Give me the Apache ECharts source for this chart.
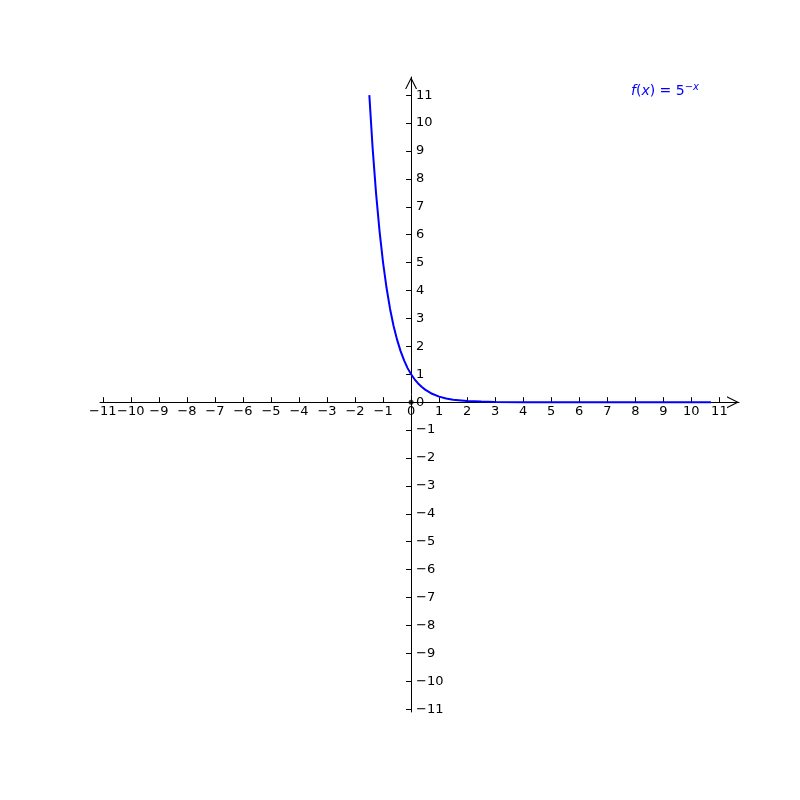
<!DOCTYPE html>
<html>
<head>
<meta charset="utf-8">
<script src="https://cdn.jsdelivr.net/npm/echarts/dist/echarts.min.js"></script>
<style>
  html, body { margin: 0; padding: 0; background: #fff; }
  #chart { width: 800px; height: 800px; }
</style>
</head>
<body>
<div id="chart"></div>
<script>
// tick values on both axes
const xTicks = [-11, -10, -9, -8, -7, -6, -5, -4, -3, -2, -1, 0, 1, 2, 3, 4, 5, 6, 7, 8, 9, 10, 11];
const yTicks = [-11, -10, -9, -8, -7, -6, -5, -4, -3, -2, -1, 0, 1, 2, 3, 4, 5, 6, 7, 8, 9, 10, 11];

const curveX = [-1.49, -1.375, -1.25, -1.125, -1.0, -0.875, -0.75, -0.625, -0.5, -0.375, -0.25, -0.125,
                0, 0.125, 0.25, 0.375, 0.5, 0.75, 1.0, 1.25, 1.5, 2.0, 2.5, 3.0, 4.0, 5.0, 6.0, 8.0, 10.7];
const curveY = [11.0, 9.14, 7.48, 6.12, 5.0, 4.09, 3.34, 2.73, 2.24, 1.83, 1.5, 1.22,
                1.0, 0.82, 0.67, 0.55, 0.45, 0.3, 0.2, 0.13, 0.09, 0.04, 0.02, 0.01, 0.0, 0.0, 0.0, 0.0, 0.0];

// the black dot at the origin
const originPoint = [[0, 0]];

// axis ranges (a little past the last ticks, for the arrows)
const xMin = -11.1, xMax = 11.7;
const yMin = -11.1, yMax = 11.65;

const grid = { left: 100, top: 77, width: 639, height: 635 };

// shift the axes from the grid edges onto the zero lines (labels follow)
const xOffset = -(grid.height * (0 - yMin) / (yMax - yMin));
const yOffset = -(grid.width * (0 - xMin) / (xMax - xMin));

const minus = v => String(v).replace('-', '\u2212');
// open chevron arrow, pointing up (ECharts rotates it along the axis)
const arrowPath = 'path://M0,12 L6,0 L12,12 L10.8,12 L6,2.4 L1.2,12 Z';

const chart = echarts.init(document.getElementById('chart'));

chart.setOption({
    animation: false,
    backgroundColor: '#fff',
    textStyle: { fontFamily: 'DejaVu Sans' },
    title: {
        left: 626,
        top: 77,
        text: '{i|f}{r|(}{i|x}{r|) = 5}{s|\u2212x}',
        textStyle: {
            rich: {
                i: { fontFamily: 'DejaVu Sans', fontStyle: 'italic', fontWeight: 'normal', fontSize: 14, color: '#0000ff', lineHeight: 18 },
                r: { fontFamily: 'DejaVu Sans', fontWeight: 'normal', fontSize: 14, color: '#0000ff', lineHeight: 18 },
                s: { fontFamily: 'DejaVu Sans', fontStyle: 'italic', fontWeight: 'normal', fontSize: 10, color: '#0000ff', verticalAlign: 'top', lineHeight: 10 }
            }
        }
    },
    grid: grid,
    xAxis: {
        type: 'value',
        min: xMin,
        max: xMax,
        position: 'bottom',
        offset: xOffset,
        splitLine: { show: false },
        axisLine: {
            onZero: false,
            lineStyle: { color: '#000', width: 1 },
            symbol: ['none', arrowPath],
            symbolSize: [12, 12],
            symbolOffset: [0, -6]
        },
        axisTick: { customValues: xTicks, inside: true, length: 5, lineStyle: { color: '#000' } },
        axisLabel: {
            customValues: xTicks,
            margin: 3,
            color: '#000',
            fontSize: 13,
            fontFamily: 'DejaVu Sans',
            formatter: minus
        }
    },
    yAxis: {
        type: 'value',
        min: yMin,
        max: yMax,
        position: 'left',
        offset: yOffset,
        splitLine: { show: false },
        axisLine: {
            onZero: false,
            lineStyle: { color: '#000', width: 1 },
            symbol: ['none', arrowPath],
            symbolSize: [12, 12],
            symbolOffset: [0, -6]
        },
        axisTick: { customValues: yTicks, inside: false, length: 5, lineStyle: { color: '#000' } },
        axisLabel: {
            customValues: yTicks,
            inside: true,
            margin: 5,
            color: '#000',
            fontSize: 13,
            fontFamily: 'DejaVu Sans',
            formatter: minus
        }
    },
    series: [
        {
            type: 'line',
            data: curveX.map((x, i) => [x, curveY[i]]),
            showSymbol: false,
            lineStyle: { color: '#0000ff', width: 2 },
            z: 5
        },
        {
            type: 'scatter',
            data: originPoint,
            symbolSize: 5,
            itemStyle: { color: '#000' },
            z: 6
        }
    ]
});
</script>
</body>
</html>
